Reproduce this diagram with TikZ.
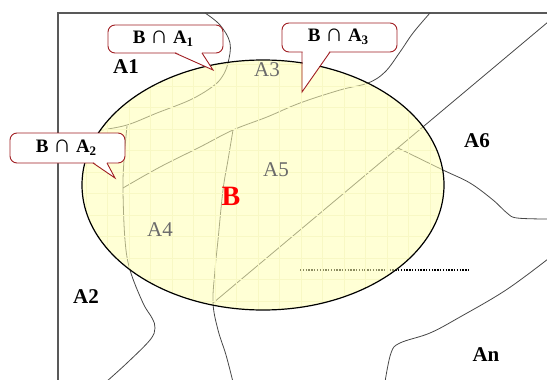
\documentclass[tikz,border=0pt]{standalone}
\usepackage{fontspec}
\setmainfont{Liberation Serif}
\definecolor{calloutred}{RGB}{160,30,35}
\definecolor{elfill}{RGB}{255,255,178}
\definecolor{gridc}{RGB}{248,248,196}
\tikzset{
  frameline/.style={draw=black!65, line width=1.1pt},
  region/.style={draw=black!72, line width=0.8pt},
  callout/.style={draw=calloutred, fill=white, line width=0.9pt, rounded corners=7pt},
  pointer/.style={draw=calloutred, line width=0.9pt, line join=miter},
  biglabel/.style={font=\fontsize{21}{21}\selectfont\bfseries},
  graylabel/.style={font=\fontsize{21}{21}\selectfont, text=black!58},
  calltext/.style={font=\fontsize{19}{19}\selectfont\bfseries}
}
\newcommand\subsc[1]{\raisebox{-0.35ex}{\fontsize{13}{13}\selectfont #1}}
\newcommand\capsym{{\fontsize{25}{25}\selectfont\mdseries ∩}}
\begin{document}
\begin{tikzpicture}[x=1pt,y=-1pt]
\useasboundingbox (0,0) rectangle (547,380);
% frame
\draw[frameline] (547,13) -- (58,13) -- (58,381);
% region boundaries
\draw[region] plot[smooth,tension=0.6] coordinates {(205,13) (220,25) (230,43) (228,63) (222,77) (212,87) (190,100) (157,113) (127,125) (101,130)};
\draw[region] plot[smooth,tension=0.6] coordinates {(127,126) (124,160) (123,190) (125,240) (130,270) (143,303) (152,318) (155,328) (150,340) (127,363) (106,382)};
\draw[region] plot[smooth,tension=0.6] coordinates {(123,188) (160,167) (200,147) (233,130) (267,117) (300,103) (340,90) (368,83) (385,72) (400,52) (413,33) (430,13)};
\draw[region] plot[smooth,tension=0.6] coordinates {(233,130) (228,160) (223,190) (218,240) (215,270) (213,303) (218,330) (226,355) (233,382)};
\draw[region] (213,303) -- (548,22);
\draw[region] plot[smooth,tension=0.6] coordinates {(398,148) (443,170) (470,183) (493,200) (507,213) (517,218) (548,219)};
\draw[region] plot[smooth,tension=0.6] coordinates {(548,259) (506,290) (460,317) (430,333) (400,343) (391,353) (385,382)};
\draw[black, line width=1.3pt, dash pattern=on 1.4pt off 1.4pt] (300,270) -- (470,270);
% set B
\fill[elfill, fill opacity=0.55] (263,185) ellipse [x radius=181, y radius=125];
\begin{scope}
\clip (263,185) ellipse [x radius=181, y radius=125];
\draw[gridc, line width=0.5pt, step=21.5pt] (80,55) grid (450,315);
\end{scope}
\draw[black, line width=1.2pt] (263,185) ellipse [x radius=181, y radius=125];
% labels
\node[biglabel] (a1) at (126,67) {A1};
\node[biglabel] (a2) at (86,297) {A2};
\node[biglabel] (a6) at (477,141) {A6};
\node[biglabel] (an) at (486,355) {An};
\node[graylabel] (a3) at (267,70) {A3};
\node[graylabel] (a5) at (276,170) {A5};
\node[graylabel] (a4) at (160,230) {A4};
\node[font=\fontsize{28}{28}\selectfont\bfseries, text=red] (b) at (231,196) {B};
% callouts
\draw[callout] (108,25) rectangle (223,53);
\fill[white] (175.5,52) -- (213,70) -- (201.5,52) -- cycle;
\draw[pointer] (175,53) -- (213,70) -- (202,53);
\node[calltext] (c1) at (163,39) {B \capsym{} A\subsc{1}};
\draw[callout] (10,133) rectangle (125,163);
\fill[white] (93.5,162) -- (115,178) -- (106.5,162) -- cycle;
\draw[pointer] (93,163) -- (115,178) -- (107,163);
\node[calltext] (c2) at (66,148) {B \capsym{} A\subsc{2}};
\draw[callout] (282,23) rectangle (397,52);
\fill[white] (302.5,51) -- (302.5,92) -- (329.5,51) -- cycle;
\draw[pointer] (302,52) -- (302,92) -- (330,52);
\node[calltext] (c3) at (338,37) {B \capsym{} A\subsc{3}};
\end{tikzpicture}
\end{document}
